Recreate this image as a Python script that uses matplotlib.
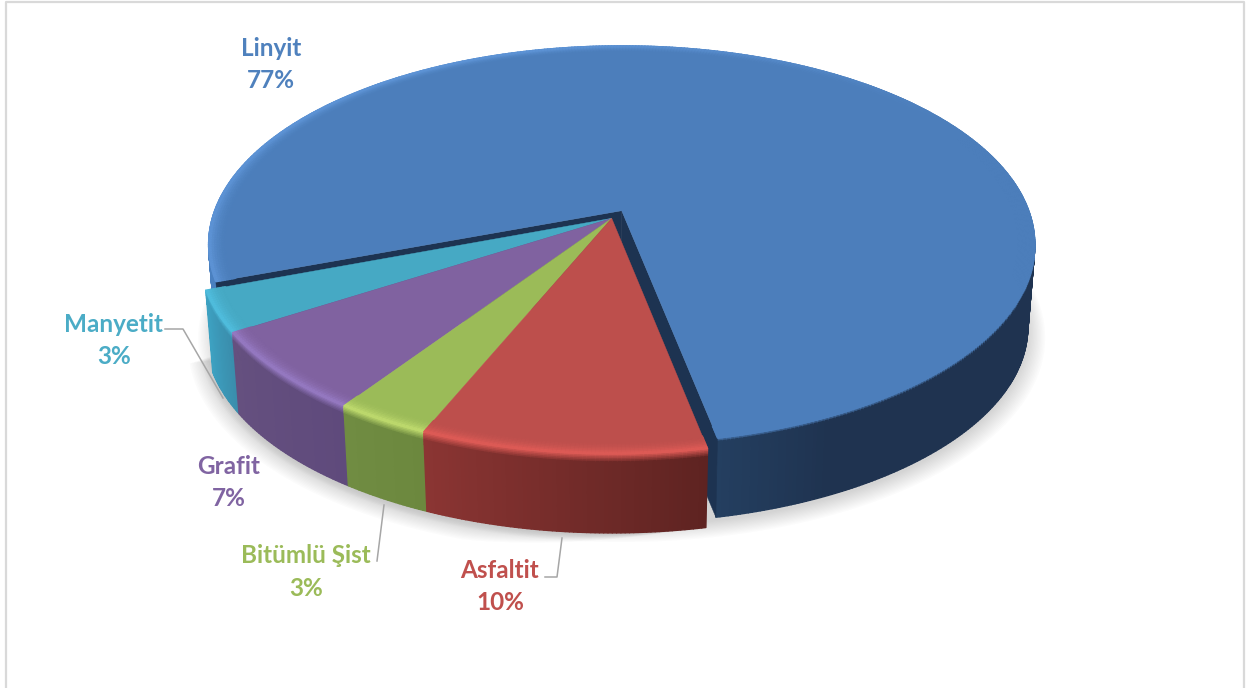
import numpy as np
import matplotlib
matplotlib.use("Agg")
from matplotlib import pyplot as plt
from matplotlib.collections import PolyCollection
from matplotlib.colors import to_rgb

# shares, printed rounded on the chart
names = ["Asfaltit", "Bitümlü Şist", "Grafit", "Manyetit", "Linyit"]
values = [9.5, 3.2, 6.51, 3.3, 77.49]
text_colors = ["#c0504d", "#9bbb59", "#8064a2", "#4bacc6", "#4f81bd"]
top_colors = ["#bd4f4c", "#9bbb58", "#8062a0", "#46a9c4", "#4c7ebb"]
high_colors = ["#dc5a55", "#bcd86c", "#9478c0", "#4fbcdc", "#5c92d4"]
side_left = ["#8b3533", "#708c42", "#65507f", "#3da2c2", "#4a80c0"]
side_right = ["#5e2321", "#6c883e", "#5f4a7c", "#3a8cab", "#243f60"]
label_pos = [(500, 570.5), (306, 555.5), (229, 466.5), (114, 324.5), (271, 48.5)]
leaders = [
    [(545, 577), (557, 577), (562, 538)],
    [(377, 561), (384, 505)],
    None,
    [(165, 329), (183, 329), (223, 398)],
    None,
]

# projection of the pie, pixel units
CX, CY = 621.7, 210.7
A, B, K = 407.0, 193.0, 0.171
DROP, SHRINK = 83.0, 0.017
START = -11.3
OFFSET = (-10.0, 7.6)
EXPLODED = 1.012


def project(phi, r, z, off=(0.0, 0.0)):
    # phi is degrees going to the left from the front of the pie
    t = np.radians(phi)
    u = -r * np.sin(t)
    v = -r * np.cos(t)
    w = 1 + K * v
    s = 1 - SHRINK * z
    # exploded slices come nearer, that only shows on the height
    sy = s * EXPLODED if off != (0.0, 0.0) else s
    return np.column_stack([CX + off[0] + s * A * u / w,
                            CY + off[1] + DROP * z - sy * B * v / w])


def mix(a, b, f):
    a = np.array(to_rgb(a))
    b = np.array(to_rgb(b))
    return a + (b - a) * f


def side_color(i, phi, p0, p1):
    if i == 4:
        # front right is dark, left end catches the light
        if phi < 150:
            return np.array(to_rgb(side_left[4]))
        f = np.clip((phi - p1 + 14) / 14, 0, 1)
        return mix("#1f3350", side_right[4], f)
    f = (phi - p0) / (p1 - p0)
    return mix(side_right[i], side_left[i], f)


def high_color(i, phi):
    if i == 4:
        f = np.clip((phi - 170) / 70, 0, 1)
        return mix(high_colors[4], top_colors[4], f)
    return np.array(to_rgb(high_colors[i]))


def draw_slice(ax, i, p0, p1, off, layer):
    phis = np.linspace(p0, p1, max(int(p1 - p0) * 2, 8))
    quads = []
    cols = []
    if layer == "side":
        stations = [(1.0, z) for z in np.linspace(0.0, 0.16, 9)] + [(1.0, 1.0)]
    else:
        stations = [(r, 0.0) for r in np.linspace(0.955, 1.0, 9)]
    for a0, a1 in zip(phis[:-1], phis[1:]):
        mid = (a0 + a1) / 2
        for j in range(len(stations) - 1):
            r0, z0 = stations[j]
            r1, z1 = stations[j + 1]
            q = np.vstack([
                project(np.array([a0, a1]), r0, z0, off),
                project(np.array([a1, a0]), r1, z1, off),
            ])
            quads.append(q)
            fr = j / (len(stations) - 2)
            if layer == "side":
                c = mix(high_color(i, mid), side_color(i, mid, p0, p1), min(fr * 1.6, 1))
                if i == 4 and mid > 230:
                    c = mix(top_colors[4], side_color(i, mid, p0, p1), min(fr * 4, 1))
            else:
                c = mix(top_colors[i], high_color(i, mid), fr ** 2)
            cols.append(c)
    ax.add_collection(PolyCollection(quads, facecolors=cols, edgecolors=cols, linewidths=1.0))


def draw_top(ax, i, p0, p1, off):
    phis = np.linspace(p0, p1, max(int(p1 - p0) * 2, 8))
    rim = project(phis, 0.96, 0.0, off)
    apex = project(np.array([0.0]), 0.0, 0.0, off)
    ax.fill(*np.vstack([apex, rim]).T, color=top_colors[i], lw=0.3)


def draw_cut(ax, phi, off, color):
    top = project(np.array([phi, phi]), np.array([0.0, 1.0]), 0.0, off)
    low = project(np.array([phi, phi]), np.array([1.0, 0.0]), 1.0, off)
    ax.fill(*np.vstack([top, low]).T, color=color, lw=0.3)


fig = plt.figure(figsize=(12.47, 6.88), dpi=100)
ax = fig.add_axes([0, 0, 1, 1])
ax.set_xlim(0, 1247)
ax.set_ylim(688, 0)
ax.axis("off")

# chart frame
ax.plot([6, 6, 1243.5, 1243.5], [700, 2, 2, 700], color="#d9d9d9", lw=1.6)

# angles from the values
angles = np.array(values) / sum(values) * 360
edges = START + np.concatenate([[0], np.cumsum(angles)])

# soft shadow under the whole pie
ring = np.linspace(0, 360, 200)
arc = np.linspace(-8, 75, 60)
taper = np.clip((arc + 8) / 25, 0, 1)
for n in range(14):
    sh = project(ring, 1.0 + n * 0.0032, 1.0)
    sh[:, 1] += 4 + n * 0.3
    ax.fill(sh[:, 0], sh[:, 1], color="#7f7f7f", alpha=0.022, lw=0)
    sh2 = project(arc, 1.0 + n * 0.0032 * taper, 1.0, OFFSET)
    sh2[:, 1] += (4 + n * 0.3) * taper
    ax.fill(np.r_[CX, sh2[:, 0]], np.r_[CY + 100, sh2[:, 1]], color="#7f7f7f", alpha=0.022, lw=0)

# big slice first, the exploded ones sit on top of it
draw_slice(ax, 4, edges[4], edges[5], (0.0, 0.0), "side")
draw_cut(ax, edges[4], (0.0, 0.0), "#1d3351")
draw_cut(ax, edges[5], (0.0, 0.0), "#1d3351")
draw_top(ax, 4, edges[4], edges[5], (0.0, 0.0))
draw_slice(ax, 4, edges[4], edges[5], (0.0, 0.0), "top")

for i in [3, 2, 1, 0]:
    draw_slice(ax, i, edges[i], edges[i + 1], OFFSET, "side")
for i in [3, 2, 1, 0]:
    draw_top(ax, i, edges[i], edges[i + 1], OFFSET)
    draw_slice(ax, i, edges[i], edges[i + 1], OFFSET, "top")

# labels and leader lines
for name, val, col, pos, lead in zip(names, values, text_colors, label_pos, leaders):
    ax.text(pos[0], pos[1], name, color=col, ha="center", va="center",
            family="Lato", fontweight="bold", fontsize=17.5)
    ax.text(pos[0], pos[1] + 32.5, f"{val:.0f}%", color=col, ha="center", va="center",
            family="Lato", fontweight="bold", fontsize=17.5)
    if lead:
        ax.plot(*zip(*lead), color="#a6a6a6", lw=1.1)

fig.savefig("out.png", dpi=100)
